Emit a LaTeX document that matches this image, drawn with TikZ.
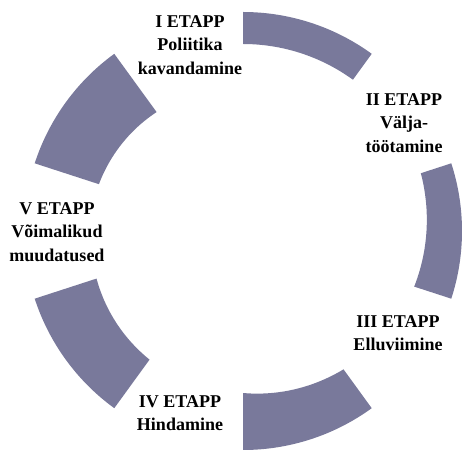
\documentclass[tikz,border=0pt]{standalone}
\usepackage{fontspec}
\setmainfont{Liberation Serif}
\definecolor{segcol}{RGB}{121,121,155}
\newcommand\segarc[4]{%
  \fill[segcol] (#1:219) arc[start angle=#1, end angle=#2, radius=219]
    -- (#2:#4)
    -- plot[domain=#2:#1, samples=40] (\x:{#4+((#3)-(#4))*(\x-(#2))/((#1)-(#2))})
    -- cycle;}
\tikzset{stagelabel/.style={align=center, font=\bfseries\fontsize{18}{23.5}\selectfont, inner sep=0pt}}
\begin{document}
\begin{tikzpicture}[x=1pt,y=1pt]
\useasboundingbox (-243,-218) rectangle (219,231);
\segarc{90}{54}{187}{187}
\segarc{18}{-18}{187}{180}
\segarc{-54}{-90}{171}{162}
\segarc{-126}{-162}{159}{154}
\segarc{162}{126}{151.5}{147}
\node[stagelabel] (s1) at (-53,186) {I ETAPP\\Poliitika\\kavandamine};
\node[stagelabel] (s2) at (161,108) {II ETAPP\\Välja-\\töötamine};
\node[stagelabel] (s3) at (155,-102) {III ETAPP\\Elluviimine};
\node[stagelabel] (s4) at (-63,-182) {IV ETAPP\\Hindamine};
\node[stagelabel] (s5) at (-186,-1) {V ETAPP\\Võimalikud\\muudatused};
\end{tikzpicture}
\end{document}
